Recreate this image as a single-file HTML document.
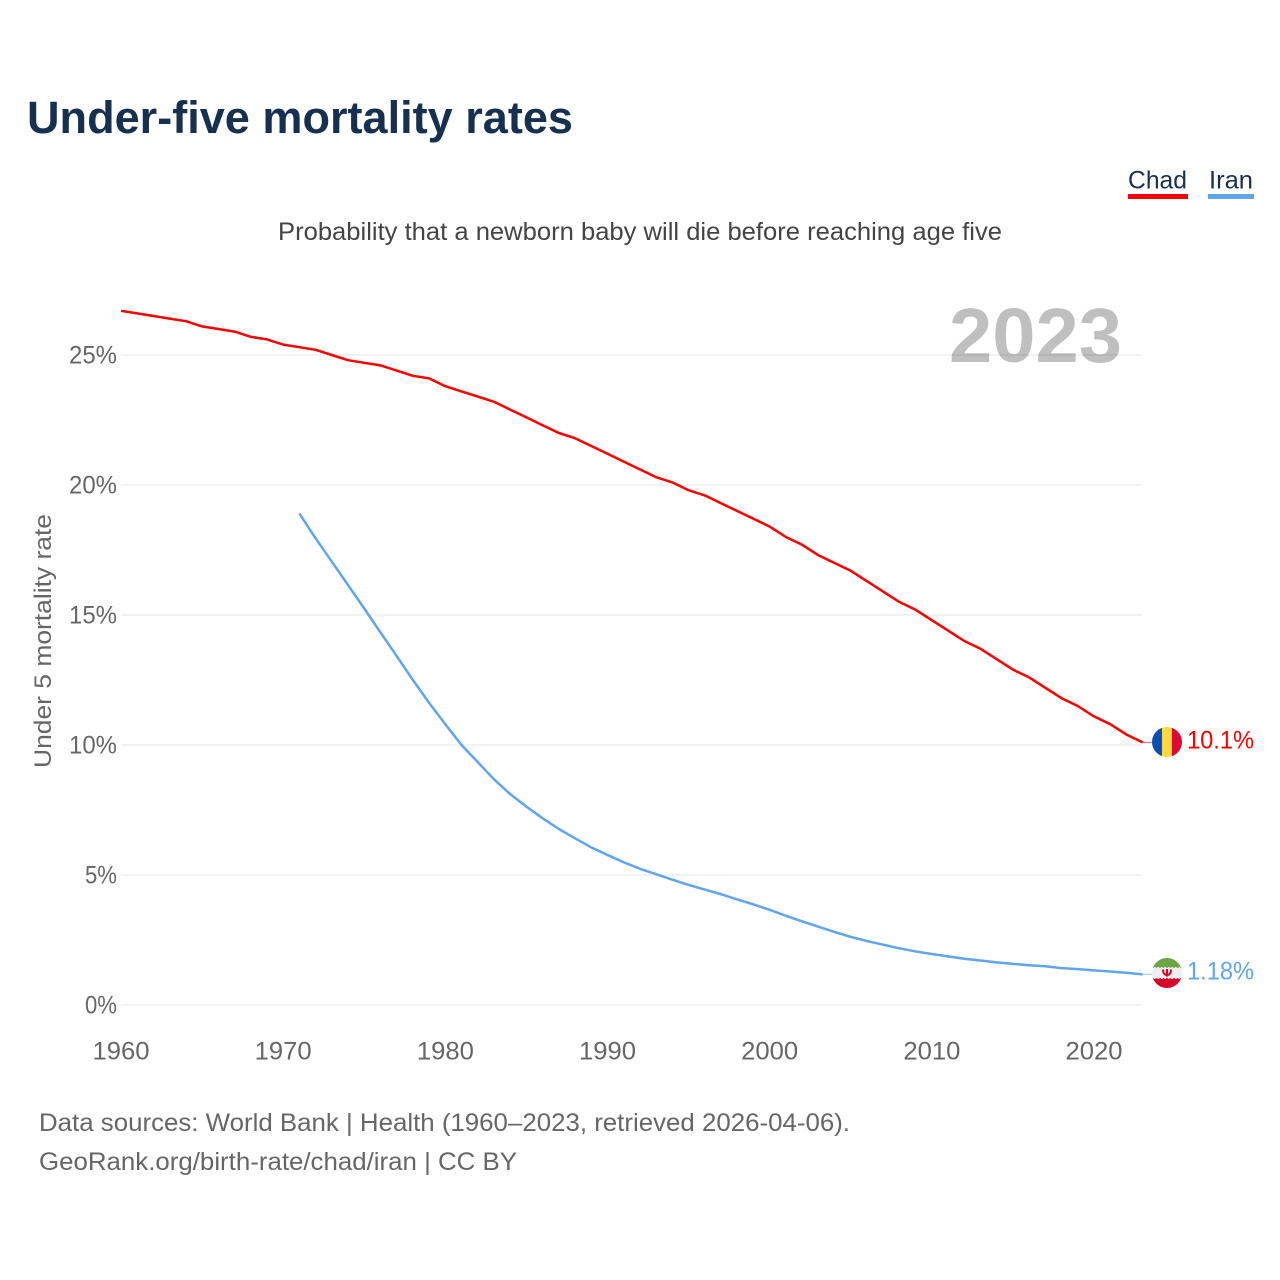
<!DOCTYPE html>
<html>
<head>
<meta charset="utf-8">
<title>Under-five mortality rates</title>
<style>
html,body{margin:0;padding:0;background:#fff;}
svg{display:block;font-family:"Liberation Sans",sans-serif;}
</style>
</head>
<body>
<svg id="chart" xmlns="http://www.w3.org/2000/svg" width="1280" height="1280" viewBox="0 0 1280 1280">
  <rect x="0" y="0" width="1280" height="1280" fill="#ffffff"/>
  <text x="27" y="133" font-size="45" font-weight="700" fill="#17304f" textLength="546" lengthAdjust="spacingAndGlyphs">Under-five mortality rates</text>
  <text x="278" y="240" font-size="25" fill="#444444" textLength="724" lengthAdjust="spacingAndGlyphs">Probability that a newborn baby will die before reaching age five</text>
  <g id="gridlines"></g>
  <g id="y-ticks"></g>
  <g id="x-ticks"></g>
  <text x="949" y="362" font-size="77" font-weight="700" fill="#000000" fill-opacity="0.25" textLength="173" lengthAdjust="spacingAndGlyphs">2023</text>
  <text transform="translate(51,768) rotate(-90)" x="0" y="0" font-size="24" fill="#666666" textLength="254" lengthAdjust="spacingAndGlyphs">Under 5 mortality rate</text>
  <g id="series"></g>

  <g>
    <text x="1128" y="188.500" font-size="25" fill="#17304f" textLength="59" lengthAdjust="spacingAndGlyphs">Chad</text>
    <rect x="1128" y="194" width="60" height="5" fill="#ff0000"/>
  </g>
  <g>
    <text x="1209" y="188.500" font-size="25" fill="#17304f" textLength="44" lengthAdjust="spacingAndGlyphs">Iran</text>
    <rect x="1208" y="194" width="46" height="5" fill="#60a5ec"/>
  </g>

  <defs>
    <clipPath id="flag-clip-chad"><circle cx="1167" cy="742" r="15"/></clipPath>
    <clipPath id="flag-clip-iran"><circle cx="1167" cy="973" r="15"/></clipPath>
  </defs>
  <g clip-path="url(#flag-clip-chad)">
    <rect x="1152" y="727" width="10" height="30" fill="#0a50b4"/>
    <rect x="1162" y="727" width="10" height="30" fill="#ffd740"/>
    <rect x="1172" y="727" width="10" height="30" fill="#dc0a32"/>
  </g>
  <g clip-path="url(#flag-clip-iran)">
    <rect x="1152" y="958" width="30" height="9" fill="#6da544"/>
    <rect x="1152" y="967" width="30" height="12" fill="#eeeeee"/>
    <rect x="1152" y="979" width="30" height="9" fill="#d80027"/>
    <path d="M1152 967h30" stroke="#6da544" stroke-width="1.500" stroke-dasharray="2 1.500"/>
    <path d="M1152 979h30" stroke="#d80027" stroke-width="1.500" stroke-dasharray="2 1.500"/>
    <path d="M1163 969.500c0 4 2 5.500 4 5.500s4-1.500 4-5.500M1167 969v7.500" stroke="#d80027" stroke-width="2" fill="none"/>
  </g>

  <text x="1187" y="748.500" font-size="25" fill="#ff0000" textLength="67" lengthAdjust="spacingAndGlyphs">10.1%</text>
  <text x="1187" y="979.500" font-size="25" fill="#60a5ec" textLength="67" lengthAdjust="spacingAndGlyphs">1.18%</text>

  <text x="39" y="1131" font-size="25" fill="#666666" textLength="811" lengthAdjust="spacingAndGlyphs">Data sources: World Bank | Health (1960–2023, retrieved 2026-04-06).</text>
  <text x="39" y="1170" font-size="25" fill="#666666" textLength="478" lengthAdjust="spacingAndGlyphs">GeoRank.org/birth-rate/chad/iran | CC BY</text>
</svg>
<script>
const yTickValues = [0, 5, 10, 15, 20, 25];
const yTickLabels = ["0%", "5%", "10%", "15%", "20%", "25%"];
const xTickValues = [1960, 1970, 1980, 1990, 2000, 2010, 2020];
const xTickLabels = ["1960", "1970", "1980", "1990", "2000", "2010", "2020"];
const chadStartYear = 1960;
const iranStartYear = 1971;
const chadValues = [26.7,26.6,26.5,26.4,26.3,26.1,26.0,25.9,25.7,25.6,25.4,25.3,25.2,25.0,24.8,24.7,24.6,24.4,24.2,24.1,23.8,23.6,23.4,23.2,22.9,22.6,22.3,22.0,21.8,21.5,21.2,20.9,20.6,20.3,20.1,19.8,19.6,19.3,19.0,18.7,18.4,18.0,17.7,17.3,17.0,16.7,16.3,15.9,15.5,15.2,14.8,14.4,14.0,13.7,13.3,12.9,12.6,12.2,11.8,11.5,11.1,10.8,10.4,10.1];
const iranValues = [18.9,17.95,17.05,16.15,15.25,14.33,13.42,12.5,11.62,10.8,10.0,9.34,8.68,8.11,7.63,7.18,6.77,6.41,6.06,5.77,5.49,5.24,5.03,4.82,4.62,4.44,4.26,4.06,3.87,3.66,3.43,3.22,3.01,2.81,2.62,2.46,2.32,2.18,2.06,1.96,1.87,1.78,1.71,1.64,1.58,1.53,1.49,1.42,1.38,1.33,1.29,1.24,1.18];

const SVG_NS = "http://www.w3.org/2000/svg";
function xScale(year) { return 121 + (year - 1960) * (1094 - 121) / 60; }
function yScale(value) { return 1005 - value * 26; }
function make(tag, attrs, parent) {
  const el = document.createElementNS(SVG_NS, tag);
  for (const k in attrs) el.setAttribute(k, attrs[k]);
  parent.appendChild(el);
  return el;
}
const gridG = document.getElementById("gridlines");
const yG = document.getElementById("y-ticks");
const xG = document.getElementById("x-ticks");
const seriesG = document.getElementById("series");
const lastYear = chadStartYear + chadValues.length - 1;

yTickValues.forEach(function (v, i) {
  const line = make("line", {x1: xScale(1960), x2: xScale(lastYear), y1: yScale(v), y2: yScale(v), stroke: "#eeeeee", "stroke-width": 1.5}, gridG);
  
  
  const t = make("text", {x: 117, y: yScale(v) + 8.5, "text-anchor": "end", "font-size": 25, fill: "#666666", textLength: yTickLabels[i].length * 16, lengthAdjust: "spacingAndGlyphs"}, yG);
  
  
  t.textContent = yTickLabels[i];
});

xTickValues.forEach(function (v, i) {
  const t = make("text", {x: xScale(v), y: 1059.5, "text-anchor": "middle", "font-size": 25, fill: "#666666", textLength: 57, lengthAdjust: "spacingAndGlyphs"}, xG);
  
  
  t.textContent = xTickLabels[i];
});

function pathFor(values, startYear) {
  return values.map(function (v, i) {
    return (i ? "L" : "M") + xScale(startYear + i).toFixed(2) + " " + yScale(v).toFixed(2);
  }).join("");
}
const chadLine = make("path", {d: pathFor(chadValues, chadStartYear), fill: "none", stroke: "#ff0000", "stroke-width": 2.5, "stroke-linejoin": "round"}, seriesG);


const iranLine = make("path", {d: pathFor(iranValues, iranStartYear), fill: "none", stroke: "#60a5ec", "stroke-width": 2.5, "stroke-linejoin": "round"}, seriesG);


const chadEnd = yScale(chadValues[chadValues.length - 1]);
const iranEnd = yScale(iranValues[iranValues.length - 1]);
const chadStub = make("line", {x1: xScale(lastYear), x2: 1152, y1: chadEnd, y2: chadEnd, stroke: "#ff0000", "stroke-width": 1, "stroke-opacity": 0.6}, seriesG);


const iranStub = make("line", {x1: xScale(lastYear), x2: 1152, y1: iranEnd, y2: iranEnd, stroke: "#60a5ec", "stroke-width": 1, "stroke-opacity": 0.6}, seriesG);


</script>
</body>
</html>
